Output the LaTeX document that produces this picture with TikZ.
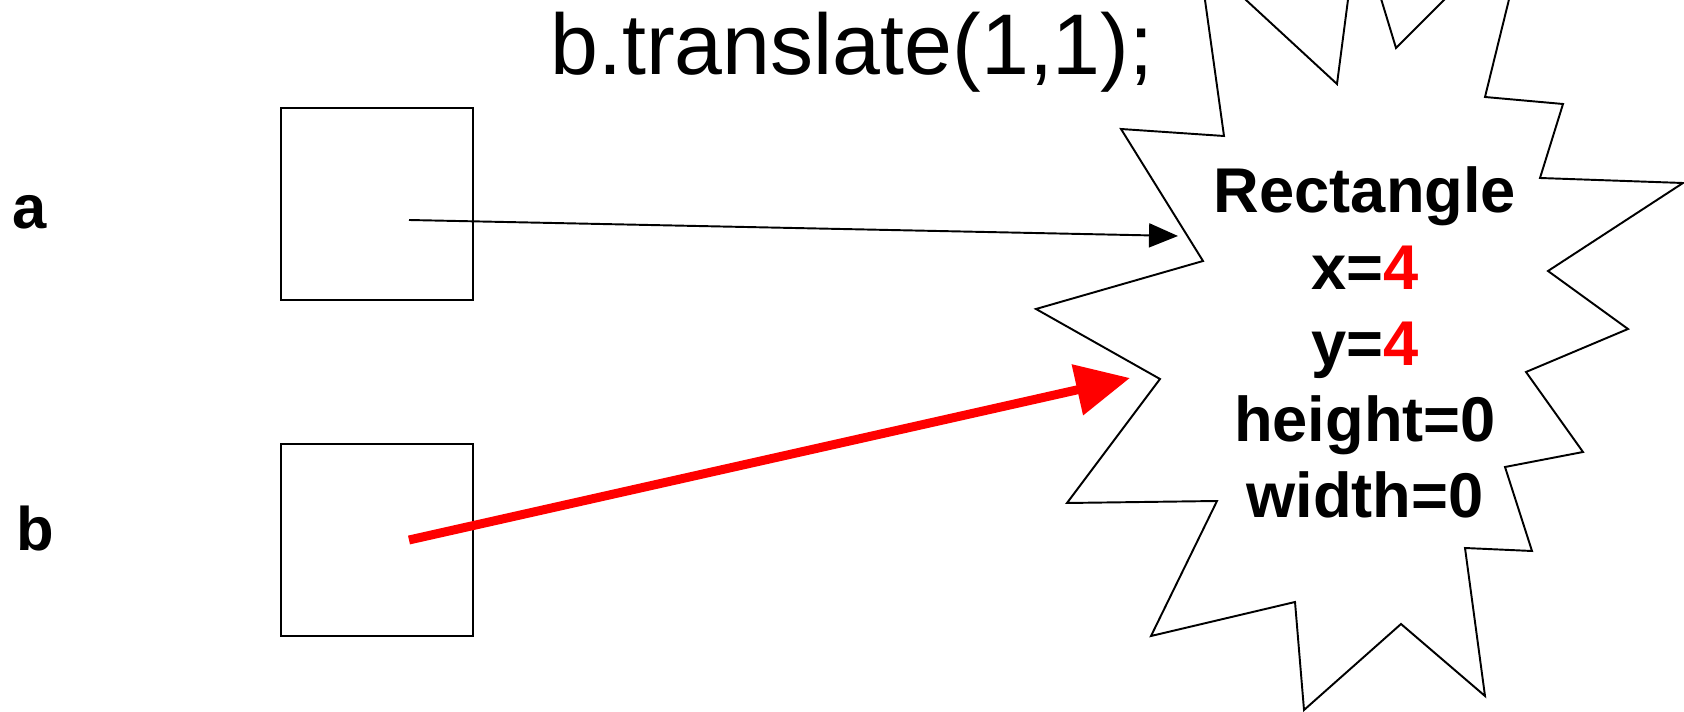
\documentclass[tikz,border=0pt]{standalone}
\usepackage{fontspec}
\setmainfont{Liberation Sans}
\usepackage{xcolor}
\usepackage{tikz}
\usetikzlibrary{arrows.meta}
\definecolor{pred}{HTML}{FF0000}

\begin{document}
\begin{tikzpicture}[x=0.02cm, y=-0.02cm,
    refbox/.style={draw, line width=1.1pt, minimum width=3.84cm, minimum height=3.84cm, inner sep=0pt},
    varlbl/.style={anchor=base, font=\fontsize{35}{42}\selectfont\bfseries},
    burst/.style={draw, line width=1.1pt, fill=white, line join=miter},
    arr/.style={-{Triangle[length=0.58cm, width=0.48cm]}, line width=1.1pt},
    redarr/.style={-{Triangle[length=1.08cm, width=1.0cm]}, line width=5.1pt, pred}
]
    \useasboundingbox (0,0) rectangle (1684,712);
    \clip (0,0) rectangle (1684,712);

    % Statement
    \node[anchor=base, font=\fontsize{49}{58}\selectfont] (stmt) at (852,75) {b.translate(1,1);};

    % Variables
    \node[varlbl] (lbla) at (30,229) {a};
    \node[varlbl] (lblb) at (35,551) {b};
    \node[refbox] (boxa) at (377,204) {};
    \node[refbox] (boxb) at (377,540) {};

    % Object
    \draw[burst] (1198,-50) -- (1246,0) -- (1337,84) -- (1358,-77) -- (1396,48) -- (1530,-86)
        -- (1485,97) -- (1563,104) -- (1540,178) -- (1683,183) -- (1548,271) -- (1628,329)
        -- (1526,372) -- (1583,452) -- (1505,467) -- (1532,551) -- (1465,548) -- (1485,696)
        -- (1401,624) -- (1304,710) -- (1295,602) -- (1151,636) -- (1217,501) -- (1067,503)
        -- (1160,379) -- (1036,309) -- (1203,261) -- (1121,129) -- (1224,136) -- cycle;
    \node[anchor=base, align=center, font=\fontsize{36}{43.4}\selectfont\bfseries] (obj) at (1365,518)
        {Rectangle\\x=\textcolor{pred}{4}\\y=\textcolor{pred}{4}\\height=0\\width=0};

    % References
    \coordinate (srca) at (409,220);
    \coordinate (srcb) at (409,540);
    \coordinate (dsta) at (1178,236);
    \coordinate (dstb) at (1130,378);
    \draw[arr] (srca) -- (dsta);
    \draw[redarr] (srcb) -- (dstb);
\end{tikzpicture}
\end{document}
